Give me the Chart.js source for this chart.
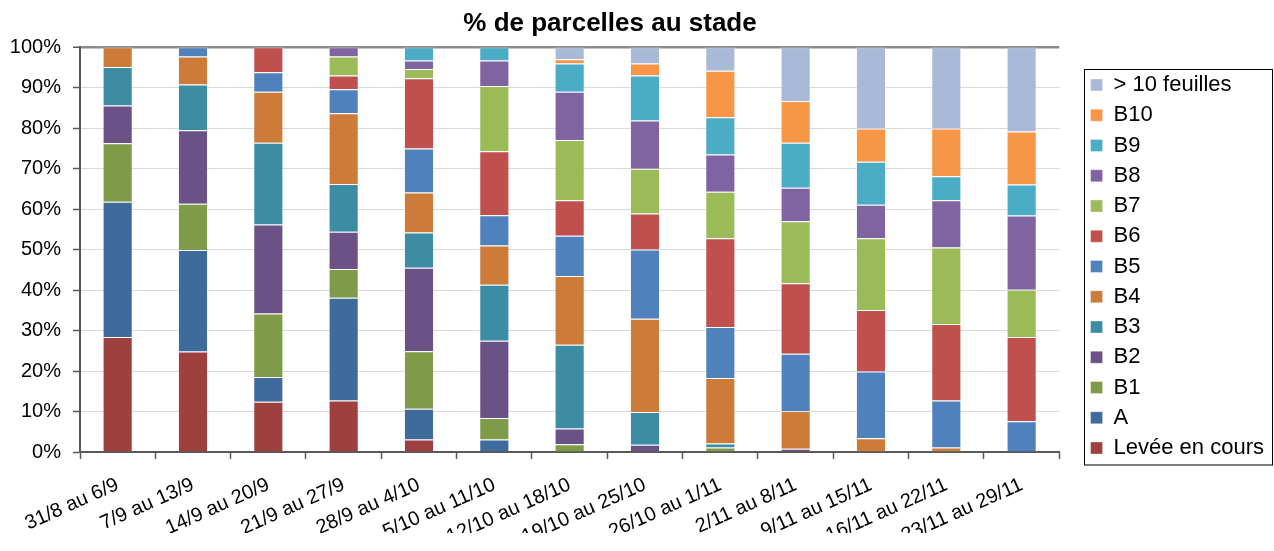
<!DOCTYPE html>
<html lang="fr">
<head>
<meta charset="utf-8">
<title>% de parcelles au stade</title>
<script src="https://cdn.jsdelivr.net/npm/chart.js@4.4.1/dist/chart.umd.min.js"></script>
<style>
  html, body { margin: 0; padding: 0; background: #fff; }
  #wrap { position: relative; width: 1274px; height: 551px; }
</style>
</head>
<body>
<div id="wrap"><canvas id="stadeChart"></canvas></div>
<script>
// Weeks (x categories)
const weeks = [
  '31/8 au 6/9', '7/9 au 13/9', '14/9 au 20/9', '21/9 au 27/9', '28/9 au 4/10',
  '5/10 au 11/10', '12/10 au 18/10', '19/10 au 25/10', '26/10 au 1/11',
  '2/11 au 8/11', '9/11 au 15/11', '16/11 au 22/11', '23/11 au 29/11'
];

// % of plots per stage, one value per week
const levee  = [28.4, 24.8, 12.4, 12.7, 3.1, 0, 0, 0, 0, 0, 0, 0, 0];
const stadeA = [33.4, 25.1, 6.1, 25.4, 7.6, 3.1, 0, 0, 0, 0, 0, 0, 0];
const b1  = [14.5, 11.4, 15.7, 7.1, 14.2, 5.3, 1.9, 0, 1.1, 0, 0, 0, 0];
const b2  = [9.3, 18.2, 22.0, 9.2, 20.6, 19.1, 3.9, 1.8, 0, 0.8, 0, 0, 0];
const b3  = [9.5, 11.3, 20.2, 11.8, 8.7, 13.8, 20.7, 8.1, 1.0, 0, 0, 0, 0];
const b4  = [4.9, 6.9, 12.6, 17.5, 9.9, 9.7, 17.0, 23.0, 16.2, 9.3, 3.4, 1.1, 0];
const b5  = [0, 2.3, 4.8, 5.9, 10.9, 7.5, 9.9, 17.1, 12.6, 14.2, 16.5, 11.6, 7.6];
const b6  = [0, 0, 6.2, 3.4, 17.3, 15.8, 8.8, 8.9, 21.9, 17.4, 15.2, 18.9, 20.8];
const b7  = [0, 0, 0, 4.7, 2.3, 16.1, 14.9, 11.1, 11.5, 15.3, 17.7, 18.9, 11.7];
const b8  = [0, 0, 0, 2.3, 2.1, 6.3, 11.9, 11.9, 9.2, 8.3, 8.3, 11.7, 18.3];
const b9  = [0, 0, 0, 0, 3.3, 3.3, 7.0, 11.1, 9.2, 11.1, 10.6, 5.9, 7.7];
const b10 = [0, 0, 0, 0, 0, 0, 1.0, 3.0, 11.5, 10.3, 8.2, 11.8, 13.1];
const plus10 = [0, 0, 0, 0, 0, 0, 3.0, 4.0, 5.8, 13.3, 20.1, 20.1, 20.8];

const stageNames = ['Levée en cours', 'A', 'B1', 'B2', 'B3', 'B4', 'B5', 'B6', 'B7', 'B8', 'B9', 'B10', '> 10 feuilles'];
const stageValues = [levee, stadeA, b1, b2, b3, b4, b5, b6, b7, b8, b9, b10, plus10];

// Colours (Excel 2007 palette, darker shades for the early stages)
const stageColors = [
  '#9e413e', '#3e6a9c', '#7f9a48', '#6a5186', '#3c8da3', '#cc7b38',
  '#4f81bd', '#c0504d', '#9bbb59', '#8064a2', '#4bacc6', '#f79646', '#a9bad8'
];

const FONT = "'Liberation Sans', Arial, sans-serif";
Chart.defaults.font.family = FONT;
Chart.defaults.color = '#000';

/**
 * Frame around the legend, like the Excel one
 */
const legendFrame = {
  id: 'legendFrame',
  afterDraw(chart) {
    const boxes = chart.legend && chart.legend.legendHitBoxes;
    if (!boxes || !boxes.length) return;
    const first = boxes[0];
    const last = boxes[boxes.length - 1];
    const ctx = chart.ctx;
    const x = Math.round(first.left - 7) + 0.5;
    const y = Math.round(first.top - 5) + 0.5;
    ctx.save();
    ctx.strokeStyle = '#000';
    ctx.lineWidth = 1;
    ctx.strokeRect(x, y, chart.width - 1.5 - x, Math.round(last.top + last.height + 6) - y);
    ctx.restore();
  }
};

/**
 * Excel centres the title a bit left of the canvas centre
 */
const titleCentre = {
  id: 'titleCentre',
  afterLayout(chart) {
    const t = chart.titleBlock;
    if (!t) return;
    t.left = 0;
    t.right = 1220;
  }
};

const datasets = stageNames.map((name, i) => ({
  label: name,
  data: stageValues[i],
  backgroundColor: stageColors[i],
  borderColor: 'rgba(255, 255, 255, 0.35)',
  borderWidth: 1,
  barPercentage: 0.4,
  categoryPercentage: 1,
}));

const ctx = document.getElementById('stadeChart').getContext('2d');
new Chart(ctx, {
  type: 'bar',
  data: {labels: weeks, datasets},
  plugins: [legendFrame, titleCentre],
  options: {
    responsive: true,
    maintainAspectRatio: false,
    animation: false,
    devicePixelRatio: 1,
    layout: {padding: {top: 0, left: 0, right: 0, bottom: 18}},
    plugins: {
      title: {
        display: true,
        text: '% de parcelles au stade',
        font: {family: FONT, size: 26, weight: 'bold'},
        color: '#000',
        padding: {top: 8, bottom: 8},
      },
      legend: {
        position: 'right',
        reverse: true,
        labels: {
          boxWidth: 12,
          boxHeight: 12,
          padding: 8.25,
          font: {family: FONT, size: 22},
          color: '#000',
        },
      },
      tooltip: {enabled: false},
    },
    scales: {
      x: {
        stacked: true,
        grid: {
          display: true,
          drawOnChartArea: false,
          drawTicks: true,
          tickLength: 7,
          tickColor: '#595959',
          tickWidth: 1.5,
          offset: true,
        },
        border: {color: '#595959', width: 2},
        ticks: {
          autoSkip: false,
          minRotation: 24,
          maxRotation: 24,
          padding: 14,
          font: {family: FONT, size: 20},
          color: '#000',
        },
        afterFit: (scale) => { scale.height = 81; },
      },
      y: {
        stacked: true,
        min: 0,
        max: 100,
        ticks: {
          stepSize: 10,
          padding: 12,
          font: {family: FONT, size: 20},
          color: '#000',
          callback: (value) => value + '%',
        },
        grid: {
          color: (c) => (c.tick && c.tick.value === 100 ? '#8c8c8c' : '#d9d9d9'),
          lineWidth: (c) => (c.tick && c.tick.value === 100 ? 2.5 : 1),
          tickLength: 7,
          tickColor: '#595959',
          tickWidth: 1.5,
        },
        border: {color: '#595959', width: 2},
        afterFit: (scale) => { scale.width = 80; },
      },
      // empty axis, only keeps the gap between the plot and the legend
      gap: {
        type: 'linear',
        position: 'right',
        display: true,
        grid: {display: false},
        border: {display: false},
        ticks: {display: false},
        afterFit: (scale) => { scale.width = 23; },
      },
    },
  },
});
</script>
</body>
</html>
